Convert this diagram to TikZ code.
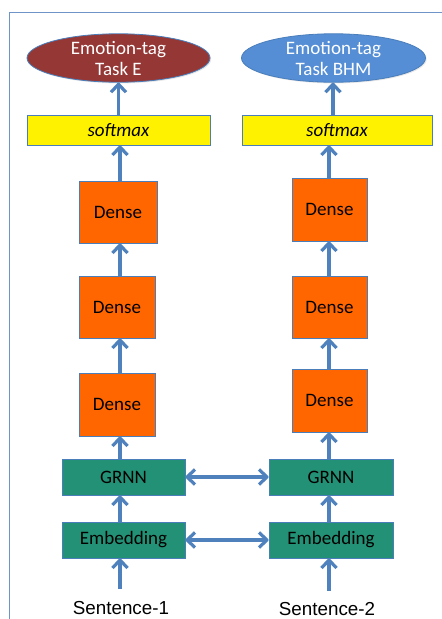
\documentclass[tikz,border=0pt]{standalone}
\usepackage{fontspec}
\setmainfont{Carlito}
\newfontfamily\arialfont{Liberation Sans}
\usetikzlibrary{arrows.meta,shapes.geometric,shadows}
\definecolor{arrowblue}{RGB}{79,129,189}
\definecolor{frameblue}{RGB}{110,148,200}
\definecolor{edgeblue}{RGB}{74,126,187}
\definecolor{darkred}{RGB}{149,55,53}
\definecolor{skyblue}{RGB}{85,142,213}
\definecolor{tealbox}{RGB}{35,145,117}
\definecolor{orangebox}{RGB}{255,102,0}
\begin{document}
\begin{tikzpicture}[x=1pt,y=-1pt,
  every node/.style={font=\fontsize{19}{21}\selectfont, inner sep=0pt, align=center},
  shade/.style={drop shadow={opacity=0.18,shadow xshift=1.2pt,shadow yshift=-1.2pt}},
  boxbase/.style={draw=edgeblue, line width=0.8pt, shade},
  outnode/.style={boxbase, ellipse, minimum width=183pt, minimum height=46pt, text=white},
  softbox/.style={boxbase, fill=yellow, minimum height=30pt, font=\fontsize{19}{21}\selectfont\itshape},
  densebox/.style={boxbase, fill=orangebox, minimum width=76pt, minimum height=62pt},
  tealnode/.style={boxbase, fill=tealbox, minimum width=123pt, minimum height=36pt},
  sent/.style={font=\fontsize{18.8}{21}\selectfont\arialfont, anchor=base},
  flow/.style={draw=arrowblue, line width=3.2pt, line join=round, -{Straight Barb[length=8pt,width=15pt,line join=round]}},
  both/.style={draw=arrowblue, line width=3.2pt, line join=round, {Straight Barb[length=8pt,width=15pt,line join=round]}-{Straight Barb[length=8pt,width=15pt,line join=round]}}
]
\useasboundingbox (0,0) rectangle (442,619);
% frame
\draw[frameblue, line width=1pt] (9,619) -- (9,12) -- (442,12);

% left column
\node[outnode, fill=darkred] (e1) at (118.5,58) {Emotion-tag\\Task E};
\node[softbox, minimum width=183pt] (s1) at (118.5,130) {softmax};
\node[densebox, minimum width=78pt] (d1a) at (118,212) {Dense};
\node[densebox] (d1b) at (117,307) {Dense};
\node[densebox, minimum height=63pt] (d1c) at (117,404.5) {Dense};
\node[tealnode] (g1) at (123.5,477) {GRNN};
\node[tealnode] (m1) at (123.5,540) {Embedding};
\node[sent] (t1) at (121,614.5) {Sentence-1};

% right column
\node[outnode, fill=skyblue, minimum width=184pt] (e2) at (333.5,58) {Emotion-tag\\Task BHM};
\node[softbox, minimum width=190pt] (s2) at (337,130) {softmax};
\node[densebox, minimum width=75pt, minimum height=63pt] (d2a) at (329.5,209.5) {Dense};
\node[densebox, minimum width=75pt] (d2b) at (329.5,307) {Dense};
\node[densebox, minimum width=75pt, minimum height=63pt] (d2c) at (329.5,400.5) {Dense};
\node[tealnode, minimum width=124pt] (g2) at (331,477) {GRNN};
\node[tealnode, minimum width=124pt] (m2) at (331,540) {Embedding};
\node[sent] (t2) at (327,615.5) {Sentence-2};

% column guides
\coordinate (c1) at (120,0);
\coordinate (c1t) at (118.5,0);
\coordinate (c2) at (329,0);
\coordinate (c2t) at (333,0);

% left arrows
\draw[flow] (t1.north -| c1) ++(0,-12) -- (m1.south -| c1);
\draw[flow] (m1.north -| c1) -- (g1.south -| c1);
\draw[flow] (g1.north -| c1) -- (d1c.south -| c1);
\draw[flow] (d1c.north -| c1) -- (d1b.south -| c1);
\draw[flow] (d1b.north -| c1) -- (d1a.south -| c1);
\draw[flow] (d1a.north -| c1) -- (s1.south -| c1);
\draw[flow] (s1.north -| c1t) -- (e1.south -| c1t);

% right arrows
\draw[flow] (t2.north -| c2) ++(0,-11) -- (m2.south -| c2);
\draw[flow] (m2.north -| c2) -- (g2.south -| c2);
\draw[flow] (g2.north -| c2) -- (d2c.south -| c2);
\draw[flow] (d2c.north -| c2) -- (d2b.south -| c2);
\draw[flow] (d2b.north -| c2) -- (d2a.south -| c2);
\draw[flow] (d2a.north -| c2) -- (s2.south -| c2);
\draw[flow] (s2.north -| c2t) -- (e2.south -| c2t);

% cross links
\draw[both] (g1.east) -- (g2.west);
\draw[both] (m1.east) -- (m2.west);
\end{tikzpicture}
\end{document}
